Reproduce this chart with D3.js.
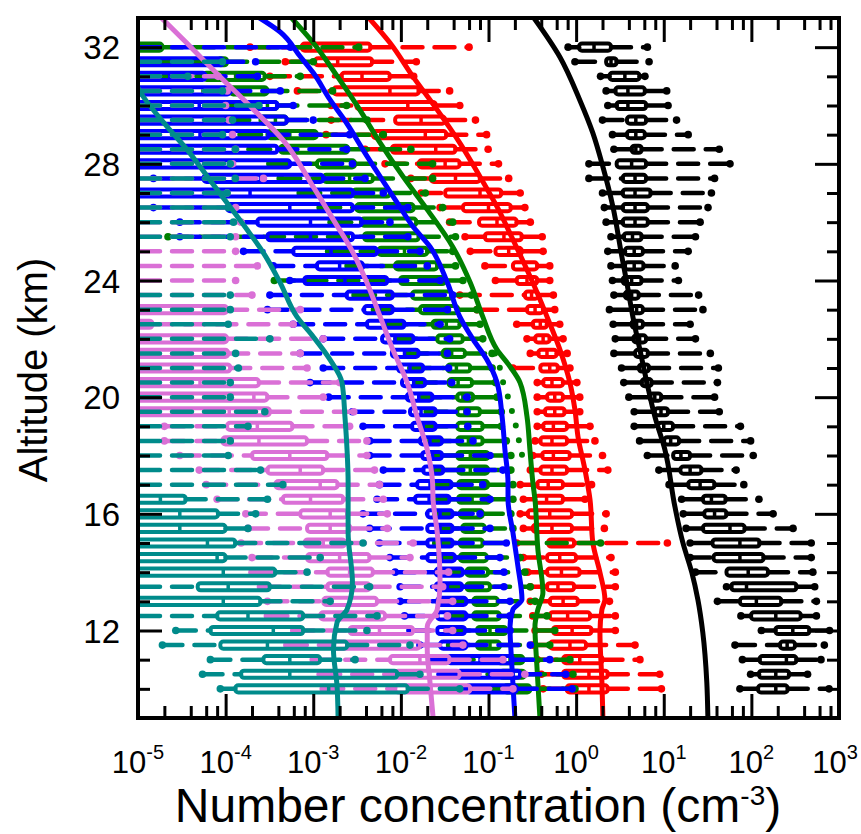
<!DOCTYPE html>
<html>
<head>
<meta charset="utf-8">
<script src="https://cdnjs.cloudflare.com/ajax/libs/d3/7.8.5/d3.min.js"></script>
<style>
  body { margin: 0; background: #fff; }
  svg text { font-family: "Liberation Sans", Arial, Helvetica, sans-serif; fill: #000; }
</style>
</head>
<body>
<script>
// altitude levels of the box plots (km)
const altitudes = [32, 31.5, 31, 30.5, 30, 29.5, 29, 28.5, 28, 27.5, 27, 26.5, 26, 25.5, 25, 24.5, 24, 23.5, 23, 22.5,
  22, 21.5, 21, 20.5, 20, 19.5, 19, 18.5, 18, 17.5, 17, 16.5, 16, 15.5, 15, 14.5, 14, 13.5, 13, 12.5, 12, 11.5, 11, 10.5, 10];

// [min, q1, median, q3, max] per altitude, cm-3
const blackBoxes = [
  [0.81, 1.08, 1.6, 2.5, 6.5], [0.97, 2.2, 2.5, 2.9, 6.8], [1.9, 2.4, 3.6, 5.3, 6.1], [2.2, 2.8, 3.9, 6.1, 10.8],
  [2.3, 2.9, 3.9, 6.3, 11.2], [2.0, 3.8, 4.8, 6.3, 14], [2.6, 3.8, 4.8, 6.1, 19], [2.7, 4.3, 4.8, 5.6, 43],
  [1.4, 2.9, 4.3, 6.3, 57], [1.4, 3.4, 4.7, 6.3, 38], [2.0, 3.4, 4.7, 7.1, 35], [2.1, 3.4, 4.7, 6.6, 32],
  [2.2, 3.4, 4.7, 6.6, 26], [2.5, 3.5, 4.4, 5.6, 23], [2.3, 3.6, 4.6, 5.8, 19], [2.5, 3.6, 4.6, 5.9, 13.5],
  [2.6, 3.4, 4.3, 5.6, 14.7], [2.7, 3.6, 4.3, 5.2, 25], [2.4, 4.3, 4.9, 5.8, 28], [2.65, 4.3, 4.9, 5.8, 20],
  [2.8, 4.5, 5.3, 6.3, 23], [2.7, 4.7, 5.5, 6.6, 34], [3.3, 5.2, 5.9, 6.8, 42], [3.5, 5.6, 6.3, 7.3, 41],
  [4.0, 6.9, 7.9, 9.4, 38], [4.6, 7.9, 9.3, 11.2, 43], [4.6, 8.6, 10, 12.8, 75], [5.3, 10.1, 12, 15, 98],
  [6.5, 12.8, 15.7, 20, 105], [8.8, 15.5, 20, 27, 67], [11.5, 19, 26, 38, 82], [16, 28, 35, 51, 122],
  [16.7, 29, 38, 52, 177], [18, 28, 57, 84, 299], [20, 36, 74, 124, 482], [20, 37, 74, 138, 482],
  [23, 52, 92, 155, 503], [52, 59, 88, 327, 528], [41, 74, 114, 220, 552], [76, 99, 190, 367, 552],
  [130, 188, 297, 460, 780], [65, 212, 256, 315, 680], [79, 124, 251, 327, 623], [98, 122, 190, 270, 438],
  [74, 119, 190, 260, 770]
];

const redBoxes = [
  [1.9e-4, 7.4e-4, 1.8e-3, 4.5e-3, 6.0e-2], [4.8e-4, 1.05e-3, 1.9e-3, 4.7e-3, 1.5e-2], [3.2e-4, 2.1e-3, 3.6e-3, 7.5e-3, 1.4e-2],
  [6.6e-4, 1.7e-3, 7.5e-3, 1.6e-2, 3.6e-2], [1.6e-3, 3.1e-3, 1.2e-2, 2.5e-2, 4.7e-2], [1.6e-3, 8.6e-3, 1.7e-2, 3.2e-2, 7.1e-2],
  [1.4e-3, 4.8e-3, 1.9e-2, 3.3e-2, 9.5e-2], [3.9e-3, 7.9e-3, 2.5e-2, 4.2e-2, 9.9e-2], [6.6e-3, 1.6e-2, 3.2e-2, 4.7e-2, 0.13],
  [1.3e-2, 2.2e-2, 4.2e-2, 8.0e-2, 0.17], [1.7e-2, 3.2e-2, 8.0e-2, 0.14, 0.23], [2.8e-2, 5.1e-2, 0.10, 0.18, 0.26],
  [3.6e-2, 7.8e-2, 0.125, 0.21, 0.30], [5.4e-2, 9.1e-2, 0.15, 0.24, 0.41], [6.2e-2, 0.12, 0.17, 0.24, 0.42],
  [9.1e-2, 0.19, 0.26, 0.36, 0.50], [0.12, 0.21, 0.275, 0.36, 0.50], [4.7e-2, 0.26, 0.31, 0.37, 0.55],
  [7.4e-2, 0.275, 0.34, 0.42, 0.57], [0.21, 0.32, 0.39, 0.465, 0.65], [0.275, 0.34, 0.42, 0.50, 0.71],
  [0.30, 0.37, 0.465, 0.60, 0.79], [0.19, 0.39, 0.50, 0.62, 0.85], [0.36, 0.42, 0.53, 0.71, 1.02],
  [0.36, 0.465, 0.57, 0.71, 1.1], [0.36, 0.44, 0.57, 0.74, 1.1], [0.36, 0.42, 0.55, 0.79, 1.44],
  [0.34, 0.39, 0.53, 0.79, 1.64], [0.32, 0.41, 0.55, 0.85, 2.0], [0.30, 0.39, 0.53, 0.79, 2.3],
  [0.23, 0.36, 0.48, 0.71, 1.5], [0.25, 0.34, 0.46, 0.71, 1.26], [0.23, 0.28, 0.50, 0.90, 2.2],
  [0.25, 0.32, 0.53, 0.90, 2.1], [0.21, 0.48, 0.62, 0.95, 11], [0.25, 0.465, 0.65, 1.0, 2.5],
  [0.28, 0.465, 0.68, 1.1, 2.8], [0.30, 0.465, 0.62, 0.95, 2.8], [0.30, 0.50, 0.71, 1.05, 2.4],
  [0.32, 0.50, 0.80, 1.45, 2.8], [0.34, 0.545, 0.90, 1.5, 2.8], [0.32, 0.50, 0.85, 1.3, 4.7],
  [0.36, 0.71, 1.1, 2.0, 5.35], [0.40, 0.71, 1.4, 2.3, 9.0], [0.42, 0.78, 1.4, 2.3, 9.4]
];

const greenBoxes = [
  [2e-6, 5e-6, 9e-6, 1.9e-5, 3.3e-3], [1.5e-5, 8.2e-5, 9.0e-5, 1.04e-4, 1.0e-3], [2.0e-5, 5.6e-5, 1.3e-4, 2.8e-4, 7.1e-4],
  [5.8e-5, 1.13e-4, 1.7e-4, 3.0e-4, 1.66e-3], [1.1e-4, 2.3e-4, 3.0e-4, 3.9e-4, 2.4e-3], [1.1e-4, 2.5e-4, 3.7e-4, 5.0e-4, 4.1e-3],
  [1.5e-4, 3.0e-4, 5.4e-4, 1.1e-3, 6.3e-3], [1.9e-4, 4.2e-4, 1.2e-3, 2.5e-3, 1.3e-2], [3.2e-4, 1.1e-3, 1.8e-3, 3.0e-3, 2.3e-2],
  [4.2e-4, 1.3e-3, 2.6e-3, 4.8e-3, 2.3e-2], [7.1e-4, 2.85e-3, 4.7e-3, 7.5e-3, 1.9e-2], [1.2e-3, 3.1e-3, 6.6e-3, 1.4e-2, 3.0e-2],
  [1.6e-3, 3.5e-3, 7.5e-3, 1.5e-2, 3.9e-2], [2.2e-5, 3.8e-3, 8.6e-3, 1.6e-2, 4.2e-2], [1.5e-3, 5.5e-3, 1.1e-2, 2.0e-2, 3.9e-2],
  [2.5e-3, 8.6e-3, 1.45e-2, 2.6e-2, 4.2e-2], [3.6e-4, 9.8e-3, 1.65e-2, 3.2e-2, 5.1e-2], [3.0e-3, 1.34e-2, 2.15e-2, 3.9e-2, 6.4e-2],
  [5.0e-3, 1.65e-2, 2.8e-2, 4.5e-2, 7.4e-2], [7.0e-3, 2.3e-2, 3.3e-2, 4.7e-2, 8.0e-2], [9.0e-3, 2.6e-2, 3.6e-2, 5.1e-2, 8.6e-2],
  [1.2e-2, 3.0e-2, 3.8e-2, 5.4e-2, 0.11], [1.3e-2, 3.4e-2, 4.3e-2, 6.2e-2, 0.11], [1.5e-2, 3.5e-2, 4.5e-2, 6.5e-2, 0.12],
  [1.7e-2, 4.4e-2, 5.1e-2, 6.7e-2, 0.125], [2.0e-2, 4.4e-2, 5.4e-2, 8.0e-2, 0.14], [2.0e-2, 4.4e-2, 5.7e-2, 8.6e-2, 0.14],
  [2.2e-2, 4.4e-2, 5.9e-2, 8.6e-2, 0.16], [2.5e-2, 4.4e-2, 6.2e-2, 0.10, 0.18], [2.5e-2, 4.5e-2, 6.2e-2, 9.9e-2, 0.18],
  [2.5e-2, 4.5e-2, 6.2e-2, 9.9e-2, 0.19], [2.7e-2, 4.5e-2, 6.5e-2, 0.104, 0.19], [2.5e-2, 4.7e-2, 6.2e-2, 8.6e-2, 0.18],
  [2.7e-2, 5.0e-2, 6.5e-2, 9.1e-2, 0.19], [2.5e-2, 4.7e-2, 6.2e-2, 8.6e-2, 1.9], [2.8e-2, 4.7e-2, 6.5e-2, 9.6e-2, 0.23],
  [3.0e-2, 5.6e-2, 7.3e-2, 9.9e-2, 0.26], [3.2e-2, 5.6e-2, 7.5e-2, 0.104, 0.30], [3.4e-2, 6.7e-2, 8.8e-2, 0.128, 0.34],
  [3.5e-2, 6.7e-2, 9.5e-2, 0.135, 0.465], [3.6e-2, 7.4e-2, 0.104, 0.16, 0.57], [3.6e-2, 7.4e-2, 0.104, 0.135, 0.50],
  [4.0e-2, 0.125, 0.176, 0.25, 0.85], [4.2e-2, 0.135, 0.19, 0.26, 0.92], [4.5e-2, 0.15, 0.21, 0.30, 0.97]
];

const blueBoxes = [
  [1e-6, 2e-6, 4e-6, 8e-6, 5.5e-4], [2e-6, 8e-6, 3.0e-5, 9.4e-5, 2.2e-4], [2e-6, 8e-6, 2.3e-5, 5.9e-5, 2.3e-4],
  [2e-6, 8e-6, 3.5e-5, 1.13e-4, 4.2e-4], [2e-6, 8e-6, 5.0e-5, 3.9e-4, 5.9e-4], [2e-6, 8e-6, 6.7e-5, 5.0e-4, 1.0e-3],
  [2e-6, 8e-6, 5.1e-5, 3.1e-4, 2.6e-3], [2e-6, 8e-6, 5.9e-5, 3.9e-4, 2.4e-3], [2e-6, 8e-6, 6.7e-5, 5.45e-4, 2.8e-3],
  [1.5e-5, 5.6e-5, 2.5e-4, 1.3e-3, 3.9e-3], [2e-6, 8e-6, 1.9e-4, 2.85e-3, 6.3e-3], [1.5e-5, 1.04e-4, 5.4e-4, 2.85e-3, 1.2e-2],
  [3.0e-5, 2.3e-4, 9.3e-4, 3.6e-3, 7.5e-3], [3.0e-5, 3.0e-4, 9.3e-4, 2.85e-3, 1.2e-2], [1.6e-4, 5.9e-4, 1.6e-3, 5.35e-3, 1.65e-2],
  [3.5e-4, 1.1e-3, 2.0e-3, 3.7e-3, 2.0e-2], [5.4e-4, 7.9e-4, 2.3e-3, 7.0e-3, 2.8e-2], [3.2e-4, 2.4e-3, 4.5e-3, 8.1e-3, 3.9e-2],
  [3.0e-4, 3.8e-3, 5.7e-3, 8.1e-3, 3.4e-2], [5.9e-4, 4.1e-3, 6.6e-3, 1.1e-2, 2.8e-2], [1.3e-3, 6.1e-3, 8.6e-3, 1.4e-2, 3.6e-2],
  [7.1e-4, 7.9e-3, 1.1e-2, 1.6e-2, 3.4e-2], [1.3e-3, 9.3e-3, 1.27e-2, 1.8e-2, 3.5e-2], [9.2e-4, 1.03e-2, 1.4e-2, 1.9e-2, 3.8e-2],
  [1.5e-3, 1.17e-2, 1.6e-2, 2.3e-2, 5.7e-2], [2.8e-3, 1.27e-2, 1.7e-2, 2.5e-2, 5.7e-2], [3.7e-3, 1.34e-2, 1.8e-2, 2.5e-2, 5.8e-2],
  [4.4e-3, 1.65e-2, 2.15e-2, 2.95e-2, 6.65e-2], [4.4e-3, 1.75e-2, 2.3e-2, 2.95e-2, 0.104], [6.3e-3, 1.8e-2, 2.3e-2, 3.05e-2, 0.146],
  [5.7e-3, 1.53e-2, 2.15e-2, 3.8e-2, 8.6e-2], [5.35e-3, 1.45e-2, 2.1e-2, 3.6e-2, 0.104], [3.7e-3, 2.0e-2, 2.8e-2, 3.9e-2, 8.0e-2],
  [4.4e-3, 2.0e-2, 2.8e-2, 3.9e-2, 0.104], [5.7e-3, 2.0e-2, 2.8e-2, 3.9e-2, 0.16], [7.5e-3, 2.0e-2, 2.9e-2, 4.15e-2, 0.135],
  [8.6e-3, 2.5e-2, 3.4e-2, 5.1e-2, 0.15], [9.8e-3, 2.5e-2, 3.4e-2, 5.0e-2, 0.15], [9.8e-3, 2.6e-2, 3.6e-2, 5.6e-2, 0.176],
  [1.1e-2, 2.6e-2, 3.6e-2, 5.6e-2, 0.176], [1.27e-2, 2.6e-2, 3.6e-2, 5.4e-2, 0.176], [1.65e-2, 2.8e-2, 3.8e-2, 5.6e-2, 0.30],
  [2.15e-2, 3.4e-2, 8.0e-2, 0.19, 0.50], [2.8e-2, 4.4e-2, 0.104, 0.23, 0.76], [3.6e-2, 5.6e-2, 0.104, 0.21, 0.90]
];

const orchidBoxes = [
  [1e-6, 2e-6, 3e-6, 5e-6, 8e-6], [1e-6, 2e-6, 3e-6, 5e-6, 8e-6], [1e-6, 2e-6, 3e-6, 6e-6, 8.2e-5],
  [1e-6, 2e-6, 3e-6, 6e-6, 1.04e-4], [1e-6, 2e-6, 3e-6, 6e-6, 1.0e-4], [1e-6, 2e-6, 3e-6, 6e-6, 1.1e-4],
  [1e-6, 2e-6, 3e-6, 6e-6, 1.2e-4], [1e-6, 2e-6, 3e-6, 6e-6, 1.3e-4], [1e-6, 2e-6, 3e-6, 6e-6, 1.2e-4],
  [1e-6, 2e-6, 3e-6, 6e-6, 2.7e-4], [1e-6, 2e-6, 3e-6, 6e-6, 1.04e-4], [1e-6, 2e-6, 3e-6, 6e-6, 1.3e-4],
  [1e-6, 2e-6, 3e-6, 6e-6, 1.5e-4], [1e-6, 2e-6, 3e-6, 6e-6, 1.3e-4], [1e-6, 2e-6, 3e-6, 6e-6, 1.3e-4],
  [1e-6, 2e-6, 3e-6, 6e-6, 2.3e-4], [1e-6, 2e-6, 3e-6, 6e-6, 1.3e-4], [1e-6, 2e-6, 3e-6, 6e-6, 2.0e-4],
  [1e-6, 5e-6, 3.0e-5, 1.04e-4, 7.1e-4], [1e-6, 8e-6, 1.1e-5, 1.46e-5, 5.9e-4], [1e-6, 5e-6, 3.0e-5, 1.04e-4, 1.3e-3],
  [1e-6, 5e-6, 3.75e-5, 1.07e-4, 7.1e-4], [1e-6, 5e-6, 3.5e-5, 1.13e-4, 8.5e-4], [1e-6, 5e-6, 5.1e-5, 2.4e-4, 2.0e-3],
  [1e-6, 5e-6, 2.1e-4, 3.0e-4, 1.3e-3], [1e-6, 5e-6, 1.1e-4, 3.2e-4, 2.9e-3], [2.0e-5, 1.04e-4, 2.3e-4, 5.8e-4, 2.6e-3],
  [2.0e-5, 9.2e-5, 2.4e-4, 8.5e-4, 4.1e-3], [3.0e-5, 2.0e-4, 5.4e-4, 1.45e-3, 4.1e-3], [5.0e-5, 3.0e-4, 7.1e-4, 1.3e-3, 5.0e-3],
  [6.0e-5, 3.7e-4, 1.2e-3, 1.9e-3, 5.7e-3], [8.0e-5, 4.5e-4, 9.3e-4, 2.2e-3, 6.3e-3], [1.7e-4, 7.1e-4, 1.56e-3, 2.44e-3, 7.0e-3],
  [1.8e-4, 8.5e-4, 1.56e-3, 2.65e-3, 7.0e-3], [1.5e-4, 8.0e-4, 1.3e-3, 2.3e-3, 1.38e-2], [2.0e-4, 8.5e-4, 2.0e-3, 4.4e-3, 1.27e-2],
  [2.0e-4, 1.45e-3, 2.6e-3, 4.8e-3, 3.5e-2], [2.5e-4, 1.45e-3, 2.3e-3, 4.4e-3, 3.0e-2], [3.0e-4, 1.3e-3, 2.6e-3, 5.35e-3, 3.9e-2],
  [3.0e-4, 1.2e-3, 2.6e-3, 6.6e-3, 3.4e-2], [6.0e-4, 2.6e-3, 5.7e-3, 1.38e-2, 3.9e-2], [5.0e-4, 1.56e-3, 5.7e-3, 1.65e-2, 5.1e-2],
  [1.0e-3, 7.5e-3, 1.65e-2, 3.6e-2, 0.146], [1.2e-3, 8.6e-3, 2.15e-2, 4.7e-2, 0.26], [1.3e-3, 8.6e-3, 2.15e-2, 6.2e-2, 0.19]
];

const tealBoxes = [
  [1e-6, 2e-6, 3e-6, 5e-6, 8e-6], [1e-6, 2e-6, 3e-6, 5e-6, 9.2e-5], [1e-6, 2e-6, 3e-6, 5e-6, 3.7e-5],
  [1e-6, 2e-6, 3e-6, 5e-6, 9.2e-5], [1e-6, 2e-6, 3e-6, 5e-6, 2.4e-4], [1e-6, 2e-6, 3e-6, 5e-6, 1.2e-4],
  [1e-6, 2e-6, 3e-6, 5e-6, 9.2e-5], [1e-6, 2e-6, 3e-6, 5e-6, 1.29e-4], [1e-6, 2e-6, 3e-6, 5e-6, 1.13e-4],
  [1e-6, 2e-6, 3e-6, 5e-6, 1.29e-4], [1e-6, 2e-6, 3e-6, 5e-6, 1.04e-4], [1e-6, 2e-6, 3e-6, 5e-6, 1.07e-4],
  [1e-6, 2e-6, 3e-6, 5e-6, 1.23e-4], [1e-6, 2e-6, 3e-6, 5e-6, 1.13e-4], [1e-6, 2e-6, 3e-6, 5e-6, 9e-6],
  [1e-6, 2e-6, 3e-6, 5e-6, 9e-6], [1e-6, 2e-6, 3e-6, 5e-6, 9e-6], [1e-6, 2e-6, 3e-6, 5e-6, 1.13e-4],
  [1e-6, 2e-6, 3e-6, 5e-6, 1.13e-4], [1e-6, 2e-6, 3e-6, 5e-6, 1.07e-4], [1e-6, 2e-6, 3e-6, 5e-6, 3.2e-4],
  [1e-6, 2e-6, 3e-6, 5e-6, 1.3e-4], [1e-6, 2e-6, 3e-6, 5e-6, 1.4e-4], [1e-6, 2e-6, 3e-6, 5e-6, 1.13e-4],
  [1e-6, 2e-6, 3e-6, 5e-6, 1.13e-4], [1e-6, 2e-6, 3e-6, 5e-6, 2.8e-4], [1e-6, 2e-6, 3e-6, 5e-6, 1.8e-4],
  [1e-6, 2e-6, 3e-6, 5e-6, 1.13e-4], [1e-6, 2e-6, 3e-6, 5e-6, 1.07e-4], [1e-6, 2e-6, 3e-6, 5e-6, 2.5e-4],
  [1e-6, 2e-6, 3e-6, 5e-6, 4.5e-4], [1e-6, 4e-6, 1.8e-5, 3.5e-5, 3.0e-4], [1e-6, 4e-6, 3.0e-5, 8.2e-5, 2.2e-4],
  [1e-6, 4e-6, 3.0e-5, 1.0e-4, 1.8e-4], [1e-6, 4e-6, 6.2e-5, 1.29e-4, 3.7e-3], [1e-6, 4e-6, 8.0e-5, 1.0e-4, 1.2e-3],
  [1e-6, 4e-6, 9.4e-5, 3.7e-4, 8.5e-4], [2e-6, 4.8e-5, 1.07e-4, 3.2e-4, 4.4e-3], [1e-6, 4e-6, 9.4e-5, 2.5e-4, 1.56e-3],
  [3e-6, 8.0e-5, 1.8e-4, 7.7e-4, 5.35e-3], [2.7e-5, 6.7e-5, 3.5e-4, 7.7e-4, 4.1e-3], [1.9e-5, 8.7e-5, 3.0e-4, 2.44e-3, 1.27e-2],
  [6.7e-5, 2.7e-4, 5.4e-4, 1.2e-3, 3.0e-3], [5.45e-5, 1.5e-4, 5.4e-4, 9.1e-3, 1.65e-2], [8.7e-5, 1.29e-4, 1.5e-3, 1.2e-2, 4.7e-2]
];

// smooth profiles: [altitude km, concentration cm-3]
const blackCurve = [[33.0, 0.33], [31.67, 0.65], [30.19, 1.10], [29.06, 1.55], [27.9, 2.02], [26.53, 2.63], [24.81, 3.33],
  [23.92, 3.79], [22.76, 4.44], [21.63, 5.34], [20.5, 6.42], [19.33, 7.92], [18.2, 10.3], [16.25, 13.4], [15.02, 16.5],
  [13.99, 20.9], [13.06, 24.5], [11.93, 27.9], [10.22, 31.0], [9.0, 31.9]];
const redCurve = [[33.04, 4.2e-3], [32.15, 7.5e-3], [30.98, 1.38e-2], [29.85, 2.6e-2], [28.72, 4.7e-2], [27.56, 8.0e-2],
  [26.53, 0.125], [25.4, 0.19], [23.92, 0.321], [22.76, 0.465], [21.63, 0.653], [20.5, 0.849], [19.57, 0.969],
  [18.65, 1.05], [17.52, 1.26], [16.49, 1.44], [15.02, 1.55], [13.99, 1.87], [13.06, 2.13], [12.72, 1.97],
  [11.93, 1.87], [10.22, 1.97], [9.02, 2.02]];
const greenCurve = [[33.04, 5.5e-4], [32.15, 1.0e-3], [30.98, 1.9e-3], [29.85, 3.4e-3], [28.72, 5.8e-3], [27.56, 1.06e-2],
  [26.43, 2.0e-2], [25.16, 3.9e-2], [23.92, 6.2e-2], [22.76, 8.6e-2], [21.63, 0.125], [21.05, 0.176], [20.5, 0.229],
  [19.33, 0.275], [18.2, 0.297], [17.07, 0.321], [16.49, 0.339], [14.78, 0.366], [13.3, 0.418], [12.72, 0.366],
  [12.14, 0.339], [10.77, 0.357], [9.02, 0.386]];
const greenDotted = [[21.5, 0.119], [21.0, 0.135], [20.5, 0.147], [20.0, 0.167], [19.5, 0.186], [19.0, 0.206],
  [18.5, 0.223], [18.0, 0.242]];
const blueCurve = [[33.05, 2.3e-4], [32.52, 4.2e-4], [31.68, 7.1e-4], [31.12, 1.0e-3], [30.19, 1.56e-3], [29.4, 2.4e-3],
  [28.48, 3.7e-3], [27.56, 5.8e-3], [26.66, 9.1e-3], [25.84, 1.38e-2], [25.16, 2.15e-2], [23.92, 3.4e-2], [22.76, 4.7e-2],
  [21.97, 6.7e-2], [21.28, 9.6e-2], [20.5, 0.125], [19.33, 0.143], [18.2, 0.154], [17.07, 0.167], [16.49, 0.167],
  [15.36, 0.19], [14.19, 0.217], [13.06, 0.241], [12.72, 0.19], [12.14, 0.176], [10.77, 0.185], [9.02, 0.2]];
const orchidCurve = [[33.04, 1.8e-5], [32.14, 3.6e-5], [30.98, 8.7e-5], [29.85, 2.1e-4], [28.82, 4.5e-4], [27.21, 1.0e-3],
  [26.08, 1.7e-3], [24.95, 2.85e-3], [23.92, 4.1e-3], [22.76, 5.8e-3], [21.63, 8.1e-3], [20.5, 1.18e-2], [19.33, 1.53e-2],
  [18.2, 2.0e-2], [17.07, 2.3e-2], [16.49, 2.33e-2], [15.36, 2.6e-2], [13.65, 2.8e-2], [12.72, 2.6e-2], [12.14, 2.0e-2],
  [11.36, 2.0e-2], [10.22, 2.15e-2], [9.02, 2.33e-2]];
const tealCurve = [[31.0, 8.5e-6], [30.3, 1.15e-5], [29.27, 2.16e-5], [28.48, 3.65e-5], [27.56, 6.2e-5], [26.66, 1.04e-4],
  [25.74, 1.76e-4], [24.95, 2.7e-4], [23.92, 4.2e-4], [22.76, 6.5e-4], [22.07, 1.0e-3], [21.28, 1.56e-3], [20.5, 2.13e-3],
  [19.33, 2.3e-3], [18.2, 2.43e-3], [17.07, 2.5e-3], [15.36, 2.5e-3], [13.65, 2.8e-3], [12.72, 2.43e-3], [12.28, 1.87e-3],
  [11.36, 1.7e-3], [10.09, 1.87e-3], [9.02, 1.92e-3]];

const xMajorTicks = [1e-5, 1e-4, 1e-3, 1e-2, 1e-1, 1, 10, 100, 1000];
const yMajorTicks = [12, 16, 20, 24, 28, 32];
const yMinorTicks = [10, 11, 13, 14, 15, 17, 18, 19, 21, 22, 23, 25, 26, 27, 29, 30, 31];

const width = 861,
      height = 834,
      plot = { left: 138, right: 839, top: 18, bottom: 718 };

const xScale = d3.scaleLog().domain([1e-5, 1e3]).range([plot.left, plot.right]),
      yScale = d3.scaleLinear().domain([9, 33]).range([plot.bottom, plot.top]);

const xMinorTicks = xMajorTicks.slice(0, -1).flatMap(d => [2, 4, 6, 8].map(m => m * d));

const svg = d3.select('body').append('svg')
  .attr('width', width)
  .attr('height', height);

svg.append('defs').append('clipPath')
  .attr('id', 'plot-clip')
  .append('rect')
  .attr('x', plot.left).attr('y', plot.top)
  .attr('width', plot.right - plot.left)
  .attr('height', plot.bottom - plot.top);

const plotArea = svg.append('g').attr('clip-path', 'url(#plot-clip)');

const series = [
  { color: '#000000', boxes: blackBoxes, curve: blackCurve },
  { color: '#ff0000', boxes: redBoxes, curve: redCurve },
  { color: '#008000', boxes: greenBoxes, curve: greenCurve },
  { color: '#0000ff', boxes: blueBoxes, curve: blueCurve },
  { color: '#da70d6', boxes: orchidBoxes, curve: orchidCurve },
  { color: '#008b8b', boxes: tealBoxes, curve: tealCurve }
];

const boxHalf = 3.6,
      dash = '20 12',
      clipStart = plot.left + 2;

const profile = d3.line()
  .x(d => xScale(d[1]))
  .y(d => yScale(d[0]))
  .curve(d3.curveMonotoneY);

series.forEach(s => {
  const rows = s.boxes.map((b, i) => ({ alt: altitudes[i], min: b[0], q1: b[1], med: b[2], q3: b[3], max: b[4] }));
  const g = plotArea.append('g');

  // lower whisker: dashes start at the min (or where it enters the frame)
  g.selectAll('line.lower')
    .data(rows.filter(d => xScale(d.q1) > clipStart))
    .join('line')
    .attr('class', 'lower')
    .attr('x1', d => Math.max(xScale(d.min), clipStart))
    .attr('x2', d => xScale(d.q1))
    .attr('y1', d => yScale(d.alt))
    .attr('y2', d => yScale(d.alt));

  g.selectAll('line.upper')
    .data(rows.filter(d => xScale(d.max) > Math.max(xScale(d.q3), clipStart)))
    .join('line')
    .attr('class', 'upper')
    .attr('x1', d => Math.max(xScale(d.q3), clipStart))
    .attr('x2', d => xScale(d.max))
    .attr('y1', d => yScale(d.alt))
    .attr('y2', d => yScale(d.alt));

  g.selectAll('line')
    .attr('stroke', s.color)
    .attr('stroke-width', 4.5)
    .attr('stroke-linecap', 'round')
    .attr('stroke-dasharray', dash);

  g.selectAll('rect')
    .data(rows)
    .join('rect')
    .attr('x', d => xScale(d.q1))
    .attr('y', d => yScale(d.alt) - boxHalf)
    .attr('width', d => xScale(d.q3) - xScale(d.q1))
    .attr('height', boxHalf * 2)
    .attr('rx', 3)
    .attr('fill', 'none')
    .attr('stroke', s.color)
    .attr('stroke-width', 4);

  g.selectAll('line.median')
    .data(rows)
    .join('line')
    .attr('class', 'median')
    .attr('x1', d => xScale(d.med))
    .attr('x2', d => xScale(d.med))
    .attr('y1', d => yScale(d.alt) - boxHalf)
    .attr('y2', d => yScale(d.alt) + boxHalf)
    .attr('stroke', s.color)
    .attr('stroke-width', 3.5);

  g.selectAll('circle')
    .data(rows.flatMap(d => [{ alt: d.alt, v: d.min }, { alt: d.alt, v: d.max }]))
    .join('circle')
    .attr('cx', d => xScale(d.v))
    .attr('cy', d => yScale(d.alt))
    .attr('r', 3.8)
    .attr('fill', s.color);

  g.append('path')
    .datum(s.curve)
    .attr('d', profile)
    .attr('fill', 'none')
    .attr('stroke', s.color)
    .attr('stroke-width', 5);

  if (s.color === '#008000') {
    g.append('path')
      .datum(greenDotted)
      .attr('d', profile)
      .attr('fill', 'none')
      .attr('stroke', s.color)
      .attr('stroke-width', 6)
      .attr('stroke-linecap', 'round')
      .attr('stroke-dasharray', '0 15');
  }
});

// axes: ticks on all four sides, pointing inward
function styleAxis(sel) {
  sel.select('.domain').remove();
  sel.selectAll('.tick line').attr('stroke', '#000').attr('stroke-width', 3);
  sel.selectAll('.tick text').remove();
}

svg.append('g').attr('transform', 'translate(0,' + plot.bottom + ')')
  .call(d3.axisBottom(xScale).tickValues(xMajorTicks).tickSize(-24)).call(styleAxis);
svg.append('g').attr('transform', 'translate(0,' + plot.bottom + ')')
  .call(d3.axisBottom(xScale).tickValues(xMinorTicks).tickSize(-12)).call(styleAxis);
svg.append('g').attr('transform', 'translate(0,' + plot.top + ')')
  .call(d3.axisTop(xScale).tickValues(xMajorTicks).tickSize(-24)).call(styleAxis);
svg.append('g').attr('transform', 'translate(0,' + plot.top + ')')
  .call(d3.axisTop(xScale).tickValues(xMinorTicks).tickSize(-12)).call(styleAxis);

svg.append('g').attr('transform', 'translate(' + plot.left + ',0)')
  .call(d3.axisLeft(yScale).tickValues(yMajorTicks).tickSize(-24)).call(styleAxis);
svg.append('g').attr('transform', 'translate(' + plot.left + ',0)')
  .call(d3.axisLeft(yScale).tickValues(yMinorTicks).tickSize(-12)).call(styleAxis);
svg.append('g').attr('transform', 'translate(' + plot.right + ',0)')
  .call(d3.axisRight(yScale).tickValues(yMajorTicks).tickSize(-24)).call(styleAxis);
svg.append('g').attr('transform', 'translate(' + plot.right + ',0)')
  .call(d3.axisRight(yScale).tickValues(yMinorTicks).tickSize(-12)).call(styleAxis);

svg.append('rect')
  .attr('x', plot.left).attr('y', plot.top)
  .attr('width', plot.right - plot.left)
  .attr('height', plot.bottom - plot.top)
  .attr('fill', 'none')
  .attr('stroke', '#000')
  .attr('stroke-width', 4);

// tick labels
svg.append('g').selectAll('text')
  .data(yMajorTicks)
  .join('text')
  .attr('x', plot.left - 18)
  .attr('y', d => yScale(d) + 12)
  .attr('text-anchor', 'end')
  .attr('font-size', 33)
  .text(d => d);

// the last label sits at the page edge, so it is kept just inside it
const xLabels = svg.append('g').selectAll('text')
  .data(xMajorTicks)
  .join('text')
  .attr('x', d => Math.min(xScale(d), width - 26))
  .attr('y', 773)
  .attr('text-anchor', 'middle')
  .attr('font-size', 31);
xLabels.append('tspan').text('10');
xLabels.append('tspan')
  .attr('dy', -14)
  .attr('font-size', 20)
  .text(d => Math.round(Math.log10(d)));

// axis titles
const xTitle = svg.append('text')
  .attr('x', 478)
  .attr('y', 822)
  .attr('text-anchor', 'middle')
  .attr('font-size', 48);
xTitle.append('tspan').text('Number concentration (cm');
xTitle.append('tspan').attr('dy', -17).attr('font-size', 28).text('-3');
xTitle.append('tspan').attr('dy', 17).text(')');

svg.append('text')
  .attr('transform', 'translate(47,370) rotate(-90)')
  .attr('text-anchor', 'middle')
  .attr('font-size', 40)
  .text('Altitude (km)');
</script>
</body>
</html>
